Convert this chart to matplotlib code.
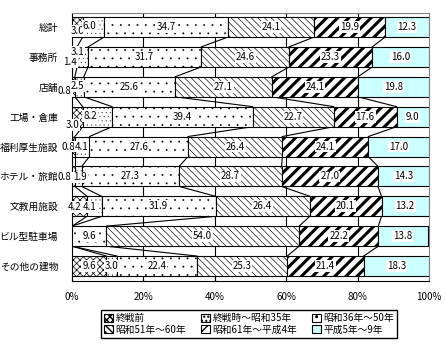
import matplotlib
matplotlib.use("Agg")
import matplotlib.pyplot as plt
import numpy as np

plt.rcParams['font.family'] = ['Noto Sans CJK JP', 'DejaVu Sans']

categories = ["総計", "事務所", "店舗", "工場・倉庫", "福利厚生施設",
              "ホテル・旅館", "文教用施設", "ビル型駐車場", "その他の建物"]
series_names = ["終戦前", "終戦時～昭和35年", "昭和36年～50年",
                "昭和51年～60年", "昭和61年～平成4年", "平成5年～9年"]

s_prewar = [3.0, 1.4, 0.8, 3.0, 0.8, 0.8, 4.2, 0.0, 9.6]
s_s35 = [6.0, 3.1, 2.5, 8.2, 4.1, 1.9, 4.1, 0.0, 3.0]
s_s50 = [34.7, 31.7, 25.6, 39.4, 27.6, 27.3, 31.9, 9.6, 22.4]
s_s60 = [24.1, 24.6, 27.1, 22.7, 26.4, 28.7, 26.4, 54.0, 25.3]
s_h4 = [19.9, 23.3, 24.1, 17.6, 24.1, 27.0, 20.1, 22.2, 21.4]
s_h9 = [12.3, 16.0, 19.8, 9.0, 17.0, 14.3, 13.2, 13.8, 18.3]

xticks = [0, 20, 40, 60, 80, 100]
xticklabels = ["0%", "20%", "40%", "60%", "80%", "100%"]

# styles per series: facecolor, hatch, hatch linewidth
styles = [
    ("white", "xxxxx", 0.5),
    ("white", "....", 0.15),
    ("white", "..", 0.15),
    ("white", "\\\\\\\\\\", 0.45),
    ("white", "///", 2.2),
    ("#ccffff", "", 0.8),
]

# hand-placed labels for the tiny segments: (row, series) -> (x %, dy px)
label_pos = {
    (0, 0): (1.5, 4), (0, 1): (5.0, -1),
    (1, 0): (-0.5, 5), (1, 1): (1.6, -5),
    (2, 0): (-2.0, 4), (2, 1): (1.6, -1),
    (3, 0): (0.2, 8), (3, 1): (5.0, -1),
    (4, 0): (-1.0, 0), (4, 1): (2.7, 0),
    (5, 0): (-2.0, 1), (5, 1): (2.3, 1),
    (6, 0): (0.6, 1), (6, 1): (5.0, 1),
}

data = np.array([s_prewar, s_s35, s_s50, s_s60, s_h4, s_h9])
n = len(categories)
y = np.arange(n)
h = 0.67
row_px = 29.9

fig = plt.figure(figsize=(4.46, 3.5), dpi=100)
ax = fig.add_axes([72 / 446, 1 - 281 / 350, 357 / 446, 268 / 350])

cum = np.zeros(n)
handles = []
for k, vals in enumerate(data):
    fc, hatch, hlw = styles[k]
    with plt.rc_context({'hatch.linewidth': hlw}):
        bars = ax.barh(y, vals, left=cum, height=h, color=fc, hatch=hatch,
                       edgecolor="black", linewidth=0.8, zorder=3,
                       label=series_names[k])
    handles.append(bars)
    for i in range(n):
        v = vals[i]
        if v <= 0:
            continue
        if (i, k) in label_pos:
            xp, dy = label_pos[(i, k)]
        else:
            xp, dy = cum[i] + v / 2, 0
        ax.text(xp, y[i] + dy / row_px, f"{v:.1f}", ha="center", va="center",
                fontsize=7, zorder=6,
                bbox=dict(facecolor="white", edgecolor="none", pad=0.6))
    cum = cum + vals

# series lines between bars
bounds = np.cumsum(data, axis=0)
for i in range(n - 1):
    for k in range(len(data) - 1):
        ax.plot([bounds[k, i], bounds[k, i + 1]], [y[i] + h / 2, y[i + 1] - h / 2],
                color="black", linewidth=0.8, zorder=2)

for xv in [20, 40, 60, 80]:
    ax.axvline(xv, color="black", linewidth=0.8, zorder=1)

ax.set_xlim(0, 100)
ax.set_ylim(n - 0.5, -0.47)
ax.set_yticks(y)
ax.set_yticklabels(categories, fontsize=7)
ax.set_xticks(xticks)
ax.set_xticklabels(xticklabels, fontsize=7)
ax.tick_params(axis="y", length=0, pad=10)
ax.tick_params(axis="x", direction="in", length=3, pad=8)
ax.spines["top"].set_color("#808080")
ax.spines["right"].set_color("#808080")

order = [0, 3, 1, 4, 2, 5]
leg = fig.legend([handles[j] for j in order], [series_names[j] for j in order],
                 loc="center", bbox_to_anchor=(249 / 446, 1 - 324 / 350),
                 ncol=3, fontsize=7, frameon=True, fancybox=False,
                 edgecolor="black", framealpha=1, handlelength=0.9,
                 handleheight=0.9, handletextpad=0.3, labelspacing=0.15,
                 columnspacing=1.5, borderpad=0.3, borderaxespad=0)
leg.get_frame().set_linewidth(1.0)

fig.savefig("out.png", dpi=100)
